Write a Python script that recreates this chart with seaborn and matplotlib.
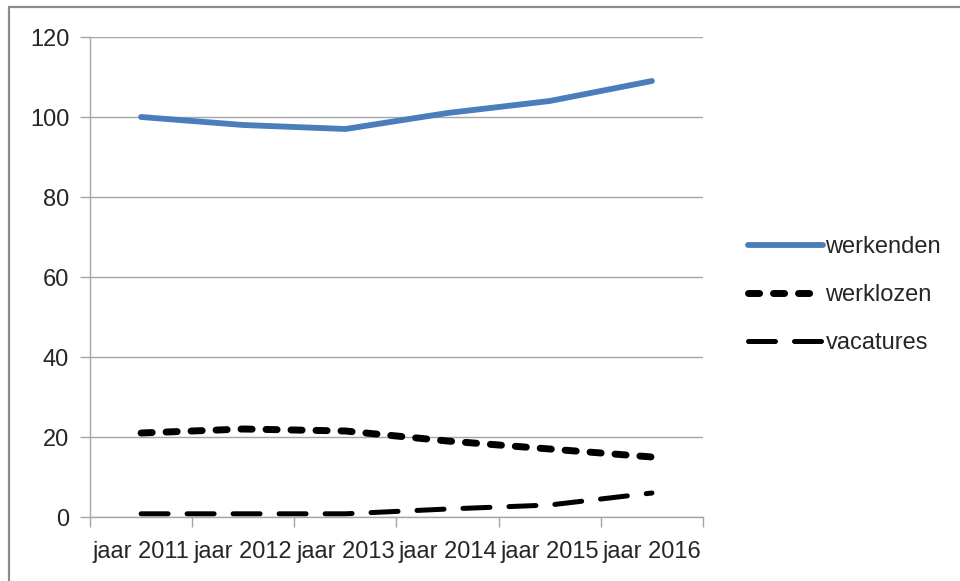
import matplotlib
matplotlib.use("Agg")
import matplotlib.pyplot as plt
import numpy as np
import pandas as pd
import seaborn as sns
from matplotlib.lines import Line2D

years = ["jaar 2011", "jaar 2012", "jaar 2013", "jaar 2014", "jaar 2015", "jaar 2016"]
werkenden = [100, 98, 97, 101, 104, 109]
werklozen = [21, 22, 21.5, 19, 17, 15]
vacatures = [0.8, 0.8, 0.8, 2, 3, 6]

sns.set_style("white")
plt.rcParams["font.family"] = ["Liberation Sans", "DejaVu Sans"]

df = pd.DataFrame({"pos": np.arange(len(years)), "werkenden": werkenden,
                   "werklozen": werklozen, "vacatures": vacatures})

fig = plt.figure(figsize=(9.6, 5.81), dpi=100)
ax = fig.add_axes([90 / 960, 1 - 517 / 581, (703 - 90) / 960, (517 - 37) / 581])

styles = {
    "werkenden": dict(color="#4a7ebb", lw=4.2, dashes=None),
    "werklozen": dict(color="black", lw=5.0, dashes=(1.6, 2.0)),
    "vacatures": dict(color="black", lw=3.6, dashes=(5.4, 3.8)),
}
for name, st in styles.items():
    kw = dict(color=st["color"], lw=st["lw"], label=name, solid_capstyle="round",
              dash_capstyle="round")
    if st["dashes"] is not None:
        kw["dashes"] = st["dashes"]
    sns.lineplot(data=df, x="pos", y=name, ax=ax, **kw)

grid_c = "#a6a6a6"
fs = 17
ax.set_ylim(0, 120)
ax.set_yticks(range(0, 121, 20))
ax.yaxis.grid(True, color=grid_c, lw=1)
ax.set_axisbelow(True)
ax.set_xlim(-0.5, len(years) - 0.5)
ax.set_xticks(np.arange(-0.5, len(years), 1.0))
ax.set_xticklabels([])
ax.set_xticks(np.arange(len(years)), minor=True)
ax.set_xticklabels(years, minor=True)
ax.tick_params(axis="x", which="major", length=7, color=grid_c, width=1, direction="out", bottom=True)
ax.tick_params(axis="x", which="minor", length=0, labelsize=fs, pad=17)
ax.tick_params(axis="y", length=7, color=grid_c, width=1, direction="out", left=True, labelsize=fs, pad=8)
for s in ["top", "right"]:
    ax.spines[s].set_visible(False)
for s in ["left", "bottom"]:
    ax.spines[s].set_color(grid_c)
    ax.spines[s].set_linewidth(1)
ax.set_xlabel("")
ax.set_ylabel("")

leg = ax.legend(loc="center left", bbox_to_anchor=(1.038, 0.4625), frameon=False,
                fontsize=fs, handlelength=3.2, handletextpad=0.1, labelspacing=1.1)

# outer chart border (only top and left edges are visible in the crop)
bc = "#8c8c8c"
fig.add_artist(Line2D([9 / 960, 1], [1 - 7 / 581, 1 - 7 / 581], transform=fig.transFigure, color=bc, lw=1.6))
fig.add_artist(Line2D([9 / 960, 9 / 960], [0, 1 - 7 / 581], transform=fig.transFigure, color=bc, lw=1.6))

fig.savefig("out.png", dpi=100)
